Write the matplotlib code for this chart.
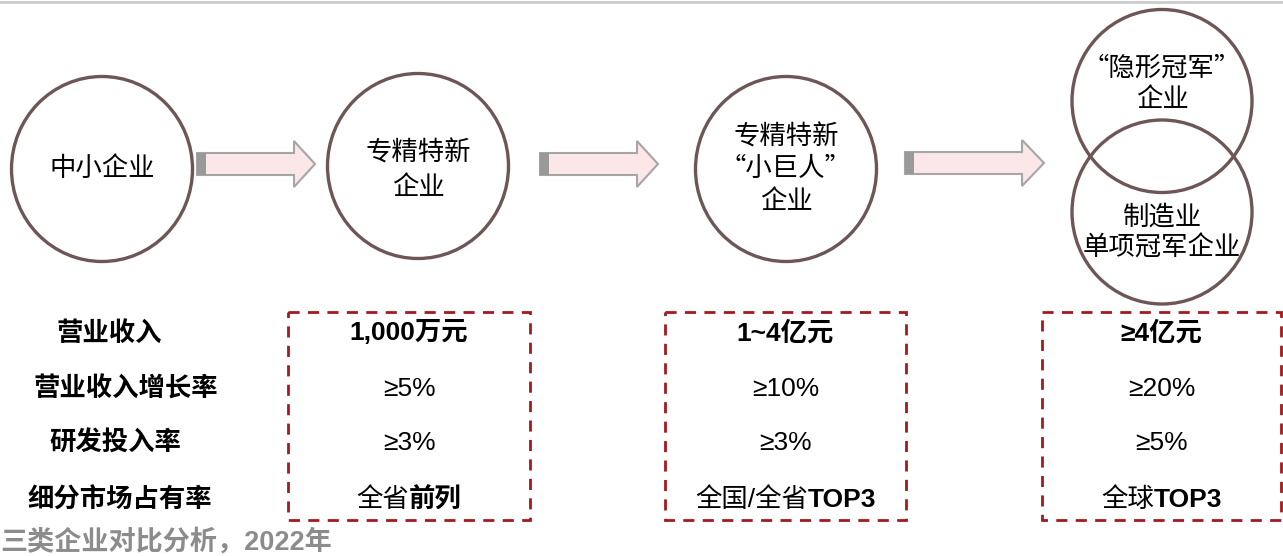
import matplotlib
matplotlib.use("Agg")
import matplotlib.pyplot as plt
from matplotlib.patches import Ellipse, Polygon, Rectangle

plt.rcParams['font.family'] = ['Noto Sans CJK SC', 'DejaVu Sans']
LATIN = ['Liberation Sans', 'Noto Sans CJK SC', 'DejaVu Sans']

# data
circle_labels = ['中小企业', '专精特新\n企业', '专精特新\n“小巨人”\n企业',
                 '“隐形冠军”\n企业', '制造业\n单项冠军企业']
row_labels = ['营业收入', '营业收入增长率', '研发投入率', '细分市场占有率']
col_values = [
    ['1,000万元', '≥5%', '≥3%', '全省前列'],
    ['1~4亿元', '≥10%', '≥3%', '全国/全省TOP3'],
    ['≥4亿元', '≥20%', '≥5%', '全球TOP3'],
]
bold_tail = ['前列', 'TOP3', 'TOP3']
footer = '三类企业对比分析，2022年'

# layout (pixel space)
W, H = 1283, 556
circles = [(102, 169, 181, 185), (418, 166, 181, 185), (786, 169, 181, 185),
           (1162, 101, 180, 183), (1162, 212, 180, 184)]
text_y = [[168], [153, 187], [137, 168, 202], [68, 100], [217, 248]]
arrows = [(197, 294, 315, 164), (540, 637, 658, 164), (905, 1022, 1044, 163)]
boxes = [(288, 530), (665, 906), (1042, 1281)]
box_top, box_bot = 312, 520
row_y = [333, 389, 443, 500]
label_x = [109, 126, 115, 120]
fs = 19

fig = plt.figure(figsize=(W / 100, H / 100), dpi=100)
ax = fig.add_axes([0, 0, 1, 1])
ax.set_xlim(0, W)
ax.set_ylim(H, 0)
ax.axis('off')
renderer = fig.canvas.get_renderer()


def seg_text(cx, y, parts):
    # parts: list of (string, weight); drawn side by side, centred on cx
    objs = [ax.text(0, y, s, ha='left', va='center', fontsize=fs, fontweight=wt,
                    family=LATIN, color='black') for s, wt in parts]
    widths = [o.get_window_extent(renderer).width for o in objs]
    x = cx - sum(widths) / 2
    for o, w in zip(objs, widths):
        o.set_x(x)
        x += w


ax.plot([0, W], [1.5, 1.5], color='#cccccc', lw=2)

edge = '#6e5656'
for (cx, cy, w, h), lab, ys in zip(circles, circle_labels, text_y):
    ax.add_patch(Ellipse((cx, cy), w, h, fill=False, ec=edge, lw=2.4))
    for line, y in zip(lab.split('\n'), ys):
        ax.text(cx, y, line, ha='center', va='center', fontsize=fs, color='black')

for x0, xh, xt, yc in arrows:
    pts = [(x0, yc - 11), (xh, yc - 11), (xh, yc - 23), (xt, yc),
           (xh, yc + 23), (xh, yc + 11), (x0, yc + 11)]
    ax.add_patch(Polygon(pts, closed=True, fc='#fbe6e8', ec='#a6a6a6', lw=1.5))
    ax.add_patch(Rectangle((x0, yc - 11), 9, 22, fc='#999999', ec='none'))

for (bl, br), vals, tail in zip(boxes, col_values, bold_tail):
    ax.add_patch(Rectangle((bl, box_top), br - bl, box_bot - box_top, fill=False,
                           ec='#a31a1f', lw=2, ls=(0, (4, 3))))
    cx = (bl + br) / 2
    for i, (v, y) in enumerate(zip(vals, row_y)):
        if i == 0:
            seg_text(cx, y, [(v, 'bold')])
        elif v.endswith(tail):
            seg_text(cx, y, [(v[:-len(tail)], 'normal'), (tail, 'bold')])
        else:
            seg_text(cx, y, [(v, 'normal')])

for lab, x, y in zip(row_labels, label_x, row_y):
    ax.text(x, y, lab, ha='center', va='center', fontsize=fs,
            fontweight='bold', color='black')

ax.text(0, 542, footer, ha='left', va='center', fontsize=19.5, fontweight='bold',
        family=LATIN, color='#8c8c8c')

fig.savefig('out.png', dpi=100)
